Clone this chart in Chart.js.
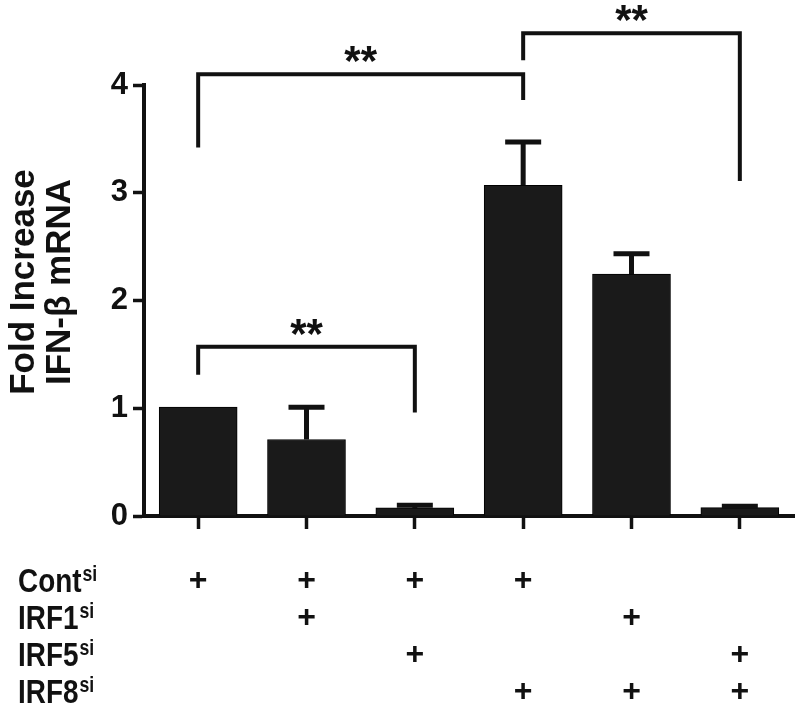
<!DOCTYPE html>
<html>
<head>
<meta charset="utf-8">
<script src="https://cdn.jsdelivr.net/npm/chart.js@4.4.1/dist/chart.umd.min.js"></script>
<style>
	body { margin: 0; background: #fff; }
	#wrap { width: 800px; height: 712px; position: relative; }
</style>
</head>
<body>
<div id="wrap"><canvas id="myChart"></canvas></div>
<script>
// ***** DATA *****
let categories = ['Cont', 'Cont+IRF1', 'Cont+IRF5', 'Cont+IRF8', 'IRF1+IRF8', 'IRF5+IRF8']
let values = [1.01, 0.71, 0.075, 3.07, 2.245, 0.078]
let errors = [0, 0.30, 0.025, 0.40, 0.19, 0.012]
let yTicks = [0, 1, 2, 3, 4]

// rows of the treatment table under the axis (1 = "+")
let rowNames = ['Cont', 'IRF1', 'IRF5', 'IRF8']
let rowCont = [1, 1, 1, 1, 0, 0]
let rowIRF1 = [0, 1, 0, 0, 1, 0]
let rowIRF5 = [0, 0, 1, 0, 0, 1]
let rowIRF8 = [0, 0, 0, 1, 1, 1]

// significance brackets
let bracketFrom = [0, 3, 0]
let bracketTo = [3, 5, 2]
let bracketY = [4.10, 4.48, 1.57]
let bracketLeftEnd = [3.42, 4.23, 1.31]
let bracketRightEnd = [3.86, 3.11, 0.96]
let bracketText = ['**', '**', '**']

let titleLines = ['Fold Increase', 'IFN-\u03b2 mRNA']

const FONT = '"Liberation Sans", Arial, Helvetica, sans-serif'

// ***** PLUGINS *****
// error bars (upper whisker only, the lower one is hidden in the bar)
let errorBars = {
	id: 'errorBars',
	afterDatasetsDraw(chart) {
		let ctx = chart.ctx
		let meta = chart.getDatasetMeta(0)
		let y = chart.scales.y
		ctx.save()
		ctx.strokeStyle = '#111'
		ctx.lineWidth = 5
		for (let i = 0; i < values.length; i++) {
			if (!errors[i]) continue
			let x = meta.data[i].x
			let yb = y.getPixelForValue(values[i])
			let yt = y.getPixelForValue(values[i] + errors[i])
			ctx.beginPath()
			ctx.moveTo(x, yb)
			ctx.lineTo(x, yt)
			ctx.moveTo(x - 18, yt)
			ctx.lineTo(x + 18, yt)
			ctx.stroke()
		}
		ctx.restore()
	},
}

// brackets + stars, y title, treatment table
let annotations = {
	id: 'annotations',
	afterDraw(chart) {
		let ctx = chart.ctx
		let meta = chart.getDatasetMeta(0)
		let y = chart.scales.y
		ctx.save()

		// brackets
		ctx.strokeStyle = '#111'
		ctx.lineWidth = 4
		ctx.lineJoin = 'miter'
		ctx.fillStyle = '#111'
		ctx.textAlign = 'center'
		ctx.textBaseline = 'alphabetic'
		ctx.font = 'bold 42px ' + FONT
		for (let i = 0; i < bracketFrom.length; i++) {
			let x1 = meta.data[bracketFrom[i]].x
			let x2 = meta.data[bracketTo[i]].x
			let yl = y.getPixelForValue(bracketY[i])
			ctx.beginPath()
			ctx.moveTo(x1, y.getPixelForValue(bracketLeftEnd[i]))
			ctx.lineTo(x1, yl)
			ctx.lineTo(x2, yl)
			ctx.lineTo(x2, y.getPixelForValue(bracketRightEnd[i]))
			ctx.stroke()
			ctx.fillText(bracketText[i], (x1 + x2) / 2, yl + 1)
		}

		// y axis title, two lines, rotated
		ctx.font = 'bold 35px ' + FONT
		ctx.textBaseline = 'middle'
		titleLines.forEach((t, k) => {
			ctx.save()
			ctx.translate(24 + k * 36, 282)
			ctx.rotate(-Math.PI / 2)
			ctx.fillText(t, 0, 0)
			ctx.restore()
		})

		// treatment table (text a bit narrower and taller, like the original)
		let rows = [rowCont, rowIRF1, rowIRF5, rowIRF8]
		ctx.textBaseline = 'alphabetic'
		rows.forEach((row, r) => {
			let base = 592 + r * 37
			ctx.save()
			ctx.translate(18, base)
			ctx.scale(0.93, 1.12)
			ctx.textAlign = 'left'
			ctx.font = 'bold 30px ' + FONT
			ctx.fillText(rowNames[r], 0, 0)
			let w = ctx.measureText(rowNames[r]).width
			ctx.font = 'bold 19px ' + FONT
			ctx.fillText('si', w + 1, -10)
			ctx.restore()
			ctx.textAlign = 'center'
			ctx.font = 'bold 32px ' + FONT
			row.forEach((on, i) => {
				if (on) ctx.fillText('+', meta.data[i].x, base - 2)
			})
		})
		ctx.restore()
	},
}

// ***** CHART *****
let ctx = document.getElementById('myChart').getContext('2d')
let myChart = new Chart(ctx, {
	type: 'bar',
	data: {
		labels: categories,
		datasets: [
			{
				data: values,
				backgroundColor: '#1a1a1a',
				borderColor: '#000',
				borderWidth: 1,
				barThickness: 78,
			},
		],
	},
	options: {
		responsive: true,
		maintainAspectRatio: false,
		animation: false,
		devicePixelRatio: 1,
		layout: { padding: { left: 0, right: 6, top: 85, bottom: 0 } },
		plugins: {
			legend: { display: false },
			tooltip: { enabled: false },
		},
		scales: {
			x: {
				grid: {
					offset: false,
					drawOnChartArea: false,
					tickLength: 13,
					tickWidth: 3.5,
					tickColor: '#111',
				},
				border: { color: '#111', width: 4 },
				ticks: { display: false },
				afterFit(scale) {
					scale.height = 196
				},
			},
			y: {
				min: 0,
				max: 4,
				afterBuildTicks(scale) {
					scale.ticks = yTicks.map((v) => ({ value: v }))
				},
				grid: {
					drawOnChartArea: false,
					tickLength: 11,
					tickWidth: 3.5,
					tickColor: '#111',
				},
				border: { color: '#111', width: 4 },
				ticks: {
					color: '#111',
					padding: 5,
					font: { family: FONT, size: 31, weight: 'bold' },
				},
				afterFit(scale) {
					scale.width = 144
				},
			},
		},
	},
	plugins: [errorBars, annotations],
})
</script>
</body>
</html>
